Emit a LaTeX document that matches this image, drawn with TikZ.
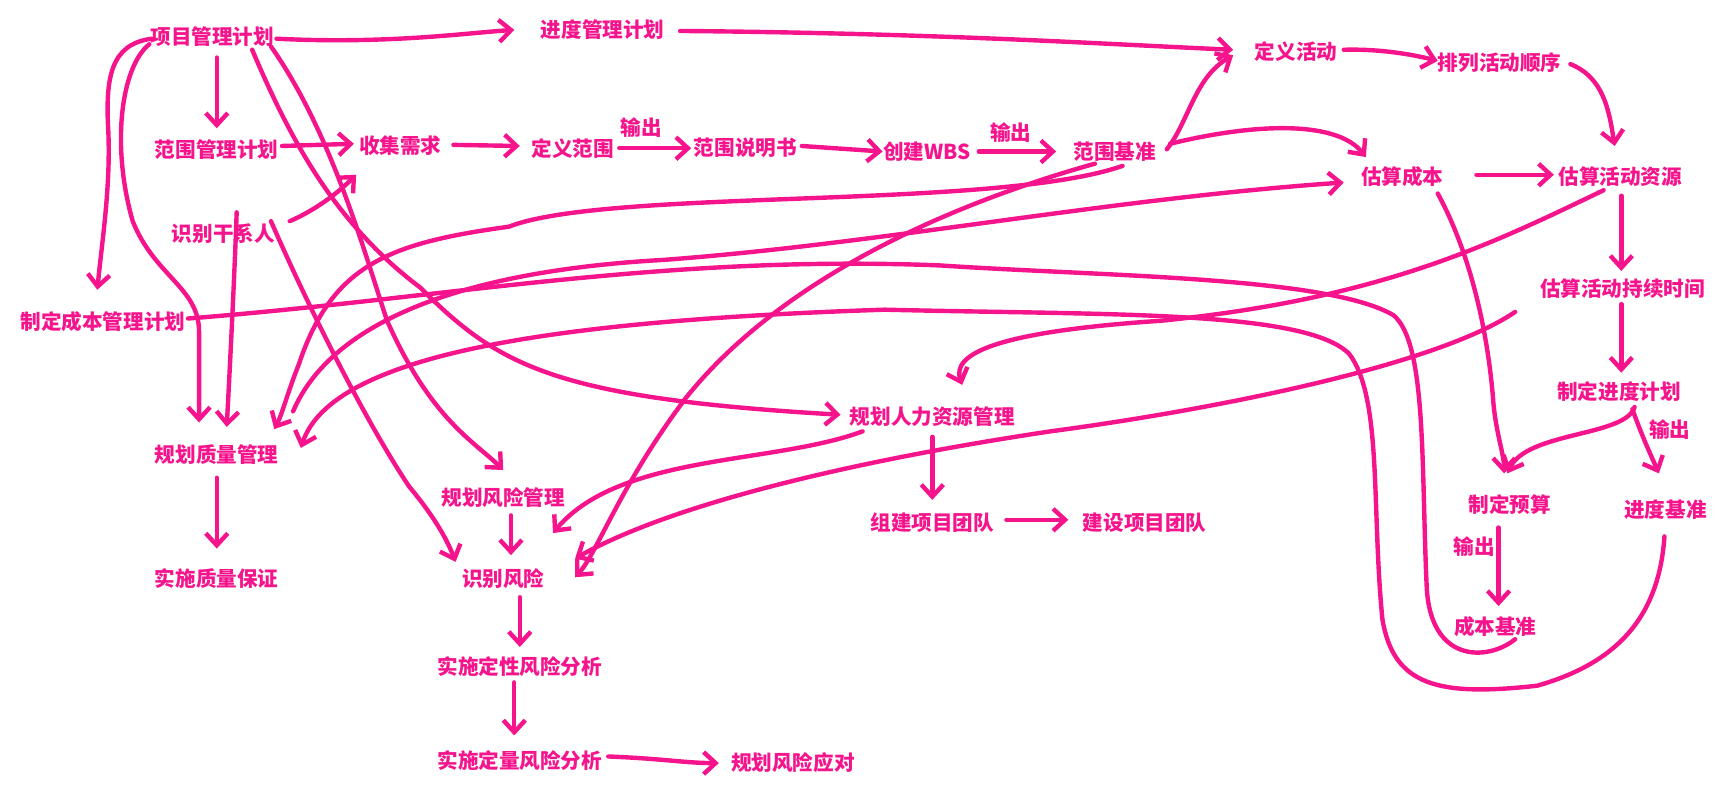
\documentclass[tikz,border=0pt]{standalone}
\usepackage{fontspec}
\setmainfont{Noto Sans CJK SC}
\usetikzlibrary{arrows.meta}
\definecolor{pk}{RGB}{245,20,140}
\begin{document}
\begin{tikzpicture}[x=0.553pt,y=-0.553pt,
  lb/.style={text=pk,font=\fontsize{10.3}{11}\selectfont\bfseries,inner sep=1pt},
  ar/.style={draw=pk,line width=2.2pt,line cap=round,line join=round,-{Straight Barb[length=6pt,width=11pt]}},
  ln/.style={draw=pk,line width=2.2pt,line cap=round,line join=round}]
\useasboundingbox (0,0) rectangle (1567,733);
\node[lb] (a1) at (192,33) {项目管理计划};
\node[lb] (a2) at (545,27) {进度管理计划};
\node[lb] (a3) at (1172,47) {定义活动};
\node[lb] (a4) at (1356,57) {排列活动顺序};
\node[lb] (b1) at (196,135) {范围管理计划};
\node[lb] (b2) at (362,132) {收集需求};
\node[lb] (b3) at (518,134) {定义范围};
\node[lb] (o1) at (580,115) {输出};
\node[lb] (b4) at (674,134) {范围说明书};
\node[lb] (b5) at (838,137) {创建WBS};
\node[lb] (o2) at (914,120) {输出};
\node[lb] (b6) at (1008,137) {范围基准};
\node[lb] (c1) at (1268,160) {估算成本};
\node[lb] (c2) at (1465,160) {估算活动资源};
\node[lb] (d1) at (202,211) {识别干系人};
\node[lb] (d2) at (93,291) {制定成本管理计划};
\node[lb] (c3) at (1467,261) {估算活动持续时间};
\node[lb] (c4) at (1464,354) {制定进度计划};
\node[lb] (o3) at (1510,388) {输出};
\node[lb] (e1) at (843,377) {规划人力资源管理};
\node[lb] (q1) at (196,411) {规划质量管理};
\node[lb] (r1) at (455,450) {规划风险管理};
\node[lb] (c5) at (1365,456) {制定预算};
\node[lb] (c6) at (1506,461) {进度基准};
\node[lb] (e2) at (843,473) {组建项目团队};
\node[lb] (e3) at (1035,473) {建设项目团队};
\node[lb] (r2) at (455,523) {识别风险};
\node[lb] (o4) at (1333,494) {输出};
\node[lb] (q2) at (196,523) {实施质量保证};
\node[lb] (c7) at (1352,567) {成本基准};
\node[lb] (r3) at (470,603) {实施定性风险分析};
\node[lb] (r4) at (470,688) {实施定量风险分析};
\node[lb] (r5) at (717,690) {规划风险应对};
% top row
\path[ar] (250,35) .. controls (350,40) and (420,30) .. (465,27);
\path[ar] (615,28) .. controls (850,30) and (1000,40) .. (1115,45);
\path[ar] (1215,45) .. controls (1250,44) and (1280,50) .. (1300,55);
\path[ar] (1420,58) .. controls (1450,70) and (1455,100) .. (1460,132);
% from 项目管理计划
\path[ar] (196,52) -- (196,116);
\path[ar] (137,35) .. controls (100,40) and (95,70) .. (98,120) .. controls (100,170) and (92,220) .. (88,262);
\path[ar] (135,40) .. controls (110,60) and (100,130) .. (120,200) .. controls (140,250) and (180,260) .. (180,300) -- (180,382);
\path[ar] (228,45) .. controls (260,120) and (300,200) .. (380,260) .. controls (450,330) and (500,360) .. (760,375);
\path[ar] (245,42) .. controls (300,120) and (330,230) .. (350,290) .. controls (390,380) and (430,400) .. (455,425);
% scope row
\path[ar] (255,132) -- (320,130);
\path[ar] (410,131) -- (470,132);
\path[ar] (560,134) -- (625,134);
\path[ar] (725,132) -- (798,137);
\path[ar] (885,137) -- (955,137);
\path[ar] (1055,135) .. controls (1075,110) and (1080,70) .. (1115,50);
\path[ar] (1058,130) .. controls (1140,110) and (1210,110) .. (1235,142);
\path[ar] (1335,158) -- (1405,158);
\path[ar] (1466,177) -- (1466,245);
\path[ar] (1466,275) -- (1466,337);
\path[ar] (1476,370) .. controls (1485,395) and (1492,410) .. (1500,428);
\path[ar] (1478,368) .. controls (1470,395) and (1380,390) .. (1363,428);
\path[ar] (1300,175) .. controls (1330,230) and (1345,300) .. (1350,360) .. controls (1352,390) and (1360,410) .. (1360,428);
\path[ar] (1355,477) -- (1355,548);
% 识别干系人
\path[ar] (262,200) .. controls (285,190) and (305,175) .. (322,158);
\path[ar] (214,192) .. controls (212,250) and (208,330) .. (205,386);
\path[ar] (245,200) .. controls (280,280) and (330,380) .. (370,440) .. controls (395,470) and (405,490) .. (412,508);
% long lines
\path[ar] (990,148) .. controls (840,190) and (700,260) .. (620,360) .. controls (560,440) and (540,500) .. (520,522);
\path[ar] (1015,150) .. controls (900,190) and (550,170) .. (460,205) .. controls (350,220) and (300,240) .. (270,330) .. controls (260,355) and (255,375) .. (248,388);
\path[ar] (265,372) .. controls (300,290) and (420,245) .. (600,235) .. controls (800,220) and (1000,180) .. (1215,165);
\path[ar] (1450,172) .. controls (1350,220) and (1250,270) .. (1050,290) .. controls (900,300) and (860,320) .. (870,348);
\path[ar] (1370,282) .. controls (1300,330) and (1100,370) .. (950,390) .. controls (750,420) and (600,460) .. (520,505);
\path[ar] (780,390) .. controls (700,420) and (560,410) .. (500,482);
% 制定成本管理计划 -> 成本基准
\path[ln] (170,288) .. controls (400,270) and (600,230) .. (850,240) .. controls (1000,250) and (1200,250) .. (1260,285) .. controls (1290,310) and (1285,420) .. (1290,530) .. controls (1293,600) and (1345,598) .. (1370,578);
% 进度基准 loop to 规划质量管理
\path[ar] (1505,485) .. controls (1500,560) and (1460,600) .. (1390,620) .. controls (1300,630) and (1260,620) .. (1250,560) .. controls (1240,460) and (1250,360) .. (1220,320) .. controls (1180,280) and (1000,285) .. (800,280) .. controls (500,290) and (300,320) .. (272,405);
% 人力 / quality / risk
\path[ar] (843,395) -- (843,452);
\path[ar] (910,470) -- (966,470);
\path[ar] (196,432) -- (196,496);
\path[ar] (462,466) -- (462,502);
\path[ar] (470,540) -- (470,585);
\path[ar] (465,617) -- (465,665);
\path[ar] (550,684) .. controls (600,686) and (620,690) .. (650,690);
\end{tikzpicture}
\end{document}
